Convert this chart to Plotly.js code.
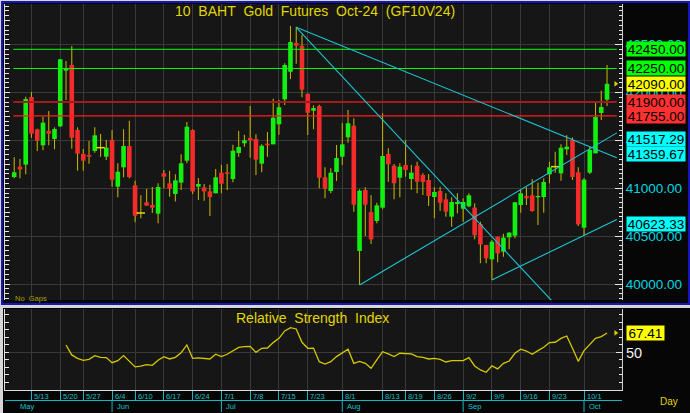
<!DOCTYPE html>
<html><head><meta charset="utf-8">
<script src="https://cdn.plot.ly/plotly-3.0.1.min.js"></script>
<style>html,body{margin:0;padding:0;background:#d6d6d6;overflow:hidden}#chart{width:690px;height:413px}</style>
</head><body><div id="chart"></div>
<script>
// ---------- DATA ----------
const dates = ['5/8','5/9','5/10','5/13','5/14','5/15','5/16','5/17','5/20','5/21','5/23','5/24','5/27','5/28','5/29','5/30','5/31',
'6/4','6/5','6/6','6/7','6/10','6/11','6/12','6/13','6/14','6/17','6/18','6/19','6/20','6/21','6/24','6/25','6/26','6/27','6/28',
'7/1','7/2','7/3','7/4','7/5','7/8','7/9','7/10','7/11','7/12','7/15','7/16','7/17','7/18','7/19','7/23','7/24','7/25','7/26','7/30','7/31',
'8/1','8/2','8/5','8/6','8/7','8/8','8/9','8/13','8/14','8/15','8/16','8/19','8/20','8/21','8/22','8/23','8/26','8/27','8/28','8/29','8/30',
'9/2','9/3','9/4','9/5','9/6','9/9','9/10','9/11','9/12','9/13','9/16','9/17','9/18','9/19','9/20','9/23','9/24','9/25','9/26','9/27','9/30',
'10/1','10/2','10/3','10/4','10/7'];
const openP = [41117,41225,41246,41952,41615,41448,41597,41514,41646,42227,42286,41608,41357,41347,41389,41423,41329,
41503,41016,41218,41441,41030,40741,40853,40825,40734,41155,41051,40940,41058,41287,41608,41016,41009,40967,40947,
41162,41165,41096,41368,41469,41524,41514,41256,41465,41458,41667,41928,42216,42516,42488,41984,41809,41858,41114,40971,41169,
41329,41531,41653,40345,40981,40750,40658,40797,41357,41235,41110,41242,41096,41235,41138,41086,40908,40971,40884,40703,40835,
40786,40811,40797,40626,40407,40257,40494,40338,40487,40504,40825,40919,40926,40905,40908,41145,41225,41155,41406,41503,41166,
40588,41162,41364,41785,41924];
const highP = [41323,41305,41956,42004,41620,41747,41806,41636,42350,42328,42485,41636,41410,41493,41636,41566,41503,
41608,41260,41615,41705,41078,40926,40992,41013,41051,41190,41183,41145,41354,41691,41615,41107,41044,41037,41201,
41245,41253,41454,41597,41559,41858,41563,41458,41587,41935,41921,42304,42694,42686,42600,41990,41865,41870,41218,41208,41451,
41681,41817,41730,40989,41009,40926,40849,41782,41417,41253,41260,41503,41245,41277,41155,41148,41009,41016,40947,40905,40947,
40894,40947,40842,40651,40410,40459,40494,40525,40540,40855,40981,41009,41096,41058,41103,41277,41381,41458,41552,41531,41218,
41107,41434,41903,42018,42286];
const lowP = [41103,41103,41145,41527,41389,41396,41448,41406,41640,41921,41413,41183,41183,41256,41371,41329,41295,
41016,40905,41114,41103,40644,40686,40818,40741,40634,40999,40912,40860,40981,41260,40940,40877,40870,40710,40947,
40947,40981,41061,41329,41434,41319,41138,41166,41329,41458,41559,41869,42140,42300,41949,41556,41615,40999,40894,40947,41075,
41242,41475,40755,39990,40501,40418,40634,40780,41068,40884,40905,41120,40985,40947,40929,40814,40686,40766,40703,40598,40738,
40651,40800,40466,40216,40216,40042,40226,40285,40362,40477,40745,40825,40755,40616,40745,41051,41162,41078,41347,41086,40606,
40512,41148,41364,41712,41858];
const closeP = [41166,41197,41931,41569,41496,41684,41569,41618,42346,42252,41527,41360,41287,41329,41552,41423,41423,
41089,41172,41441,41117,40713,40741,40818,40797,41013,41120,40995,41082,41260,41642,40967,41044,40967,40908,41114,
41047,41148,41392,41430,41500,41500,41298,41444,41448,41736,41845,42286,42526,42488,42028,41788,41837,41110,40995,41162,41315,
41458,41678,40828,40974,40828,40466,40821,41336,41250,41051,41225,41190,41162,41068,41065,40919,40960,40849,40755,40856,40856,
40856,40926,40510,40414,40268,40442,40320,40484,40536,40853,40947,40894,40762,40919,41065,41218,41225,41423,41434,41117,40623,
41089,41399,41743,41848,42090];
const rsiStartDate = '5/21';
const rsiValues = [56.7,47.8,44.8,43.0,43.9,47.2,45.7,45.4,40.9,42.7,47.2,42.4,37.1,37.9,39.1,38.5,43.0,46.3,44.2,45.7,49.8,56.7,
44.8,45.1,44.8,44.2,48.4,46.3,48.4,51.6,54.6,55.2,55.5,50.1,53.7,54.0,58.8,62.6,69.2,72.2,71.0,59.1,53.7,53.9,
41.8,39.7,41.8,46.3,49.3,52.9,40.3,42.1,40.3,35.9,43.3,50.7,48.7,46.3,49.3,49.0,48.7,46.3,45.7,44.2,44.8,43.9,41.5,42.7,42.7,42.7,45.4,
38.0,34.4,32.3,38.0,35.3,40.3,42.4,49.3,52.9,51.3,48.4,51.6,54.6,58.8,59.1,62.6,64.7,53.7,42.1,51.6,57.3,62.6,64.1,67.41];
const weekTickDates = ['5/13','5/20','5/27','6/4','6/10','6/17','6/24','7/1','7/8','7/15','7/23','8/1','8/13','8/19','8/26','9/2','9/9','9/16','9/23','10/1'];
const monthStartDates = ['5/8','6/4','7/1','8/1','9/2','10/1'];
const monthLabels = ['May','Jun','Jul','Aug','Sep','Oct'];
const levelValues = [42450, 42250, 41900, 41755];
const levelColors = ['#00ff00', '#00ff00', '#a31a1a', '#ff1c1c'];
const levelWidths = [1, 1, 2.2, 1.2];
const levelBoxColors = ['#00ff00', '#00ff00', '#ff3030', '#ff3030'];
const trendStartDates = ['7/18', '7/18', '8/6', '9/9'];
const trendStartPrices = [42680, 42680, 39990, 40042];
const trendEndDates = ['10/7', '10/7', '10/7', '10/7'];
const trendEndPrices = [41359.67, 39208, 41517.29, 40623.33];
const trendLabelled = [true, false, true, true];
const lastPriceLabel = 42090;
const lastRsiLabel = 67.41;
const chartTitle = '10&nbsp; BAHT&nbsp; Gold&nbsp; Futures&nbsp; Oct-24&nbsp; (GF10V24)';
const rsiTitle = 'Relative&nbsp; Strength&nbsp; Index';

// ---------- BUILD ----------
const W = 690, H = 413;
const px = v => v / W, py = v => 1 - v / H;
const idx = d => dates.indexOf(d);
const xs = dates.map((d, i) => i);
const X0 = -1.6, X1 = 105.6, LINE_END = 104.7, LINE_START = -0.15;
const FA = '"Liberation Sans",Arial,sans-serif';
const LBL = 13.5;
const GREEN = '#12f012', RED = '#f52a2a', WICK = '#bdae00', CYAN = '#1cc6d2';

const traces = [];
traces.push({type:'bar', x: xs, base: lowP, y: highP.map((h,i)=>h-lowP[i]), width: 0.19,
  marker:{color: WICK, line:{width:0}}, xaxis:'x', yaxis:'y', hoverinfo:'skip'});
traces.push({type:'bar', x: xs, base: openP.map((o,i)=>Math.min(o,closeP[i])),
  y: openP.map((o,i)=>Math.abs(closeP[i]-o)), width: 0.8,
  marker:{color: openP.map((o,i)=> closeP[i] > o ? GREEN : RED), line:{width:0}}, xaxis:'x', yaxis:'y'});
const dojiX = xs.filter(i => openP[i] === closeP[i]);
traces.push({type:'scatter', mode:'markers', x: dojiX, y: dojiX.map(i=>closeP[i]),
  marker:{symbol:'line-ew', size:6, line:{color:'#e8d800', width:1.5}}, xaxis:'x', yaxis:'y'});
levelValues.forEach((v, k) => traces.push({type:'scatter', mode:'lines', x:[LINE_START, LINE_END], y:[v, v],
  line:{color: levelColors[k], width: levelWidths[k]}, xaxis:'x', yaxis:'y'}));
trendStartDates.forEach((d, k) => {
  const a = idx(d), b = idx(trendEndDates[k]);
  const slope = (trendEndPrices[k] - trendStartPrices[k]) / (b - a);
  traces.push({type:'scatter', mode:'lines', x:[a, LINE_END],
    y:[trendStartPrices[k], trendStartPrices[k] + slope * (LINE_END - a)],
    line:{color: CYAN, width: 1.1}, xaxis:'x', yaxis:'y'});
});
traces.push({type:'scatter', mode:'markers', x:[LINE_END - 0.2], y:[lastPriceLabel],
  marker:{symbol:'triangle-right', size:5, color:'#e0d000'}, xaxis:'x', yaxis:'y'});
const r0 = idx(rsiStartDate);
traces.push({type:'scatter', mode:'lines', x: rsiValues.map((v,i)=>r0+i), y: rsiValues,
  line:{color:'#d4c800', width:1.3}, xaxis:'x2', yaxis:'y2'});
traces.push({type:'scatter', mode:'markers', x:[LINE_END - 0.2], y:[lastRsiLabel],
  marker:{symbol:'triangle-right', size:5, color:'#e0d000'}, xaxis:'x2', yaxis:'y2'});

const weekIdx = weekTickDates.map(idx);
const dom = [px(5), px(622)];
const shapes = [
  {type:'rect', xref:'paper', yref:'paper', x0:px(2), x1:px(689), y0:py(304), y1:py(2), fillcolor:'#060606', line:{color:'#1616b8', width:2}, layer:'below'},
  {type:'rect', xref:'paper', yref:'paper', x0:px(3), x1:px(690), y0:py(413), y1:py(308), fillcolor:'#060606', line:{width:0}, layer:'below'},
  {type:'rect', xref:'paper', yref:'paper', x0:dom[0], x1:dom[1], y0:py(300), y1:py(4), fillcolor:'#161616', line:{width:0}, layer:'below'},
  {type:'rect', xref:'paper', yref:'paper', x0:dom[0], x1:dom[1], y0:py(390), y1:py(309), fillcolor:'#161616', line:{width:0}, layer:'below'},
  {type:'line', xref:'paper', yref:'paper', x0:dom[0], x1:dom[1], y0:py(400.5), y1:py(400.5), line:{color:'#12b8c0', width:1}}
];
monthStartDates.slice(1).forEach(d => shapes.push({type:'line', xref:'x2', yref:'paper', x0:idx(d), x1:idx(d), y0:py(400.5), y1:py(412), line:{color:'#12b8c0', width:1}}));

const ann = [];
ann.push({text: chartTitle, xref:'paper', yref:'paper', x:px(314.5), y:py(11.5), xanchor:'center', yanchor:'middle', showarrow:false, font:{family:FA, size:14, color:'#e2d600'}});
ann.push({text: rsiTitle, xref:'paper', yref:'paper', x:px(312.5), y:py(318), xanchor:'center', yanchor:'middle', showarrow:false, font:{family:FA, size:14, color:'#e2d600'}});
ann.push({text:'No&nbsp; Gaps', xref:'paper', yref:'paper', x:px(13), y:py(298), xanchor:'left', yanchor:'middle', showarrow:false, font:{family:FA, size:7.5, color:'#a8a000'}});
ann.push({text:'Day', xref:'paper', yref:'paper', x:px(669), y:py(401), xanchor:'center', yanchor:'middle', showarrow:false, font:{family:FA, size:10, color:'#e2d600'}});
const box = (v, yref, color) => ({text: v.toFixed(2), xref:'paper', yref: yref, x:px(626), y:v, xanchor:'left', yanchor:'middle',
  showarrow:false, bgcolor: color, width:58, height:14, borderpad:0, align:'center', font:{family:FA, size:LBL, color:'#000'}});
trendStartDates.forEach((d,k) => { if (trendLabelled[k]) ann.push(box(trendEndPrices[k], 'y', '#00ffff')); });
levelValues.forEach((v,k) => ann.push(box(v, 'y', levelBoxColors[k])));
ann.push(box(lastPriceLabel, 'y', '#ffff00'));
const rb = box(lastRsiLabel, 'y2', '#ffff00'); rb.width = 37; ann.push(rb);
weekTickDates.forEach((d,k) => ann.push({text:d, xref:'x2', yref:'paper', x:idx(d), y:py(396.5), xanchor:'left', yanchor:'middle', xshift:0.5,
  showarrow:false, font:{family:FA, size:7.5, color:'#14c0c8'}}));
monthStartDates.forEach((d,k) => ann.push({text:monthLabels[k], xref:'x2', yref:'paper', x:idx(d), y:py(406), xanchor:'left', yanchor:'middle', xshift: k===0 ? 4 : 3,
  showarrow:false, font:{family:FA, size:7.5, color:'#14c0c8'}}));

const layout = {
  width: W, height: H, margin:{l:0, r:0, t:0, b:0}, paper_bgcolor:'#d6d6d6', plot_bgcolor:'rgba(0,0,0,0)',
  showlegend:false, barmode:'overlay', hovermode:false,
  xaxis:{domain:dom, range:[X0, X1], anchor:'y', tickvals: weekIdx, showticklabels:false, ticks:'',
    showgrid:true, gridcolor:'#393939', gridwidth:1, zeroline:false, showline:false},
  yaxis:{domain:[py(300), py(4)], range:[39833, 42923], side:'right', anchor:'x', tick0:40000, dtick:500, tickformat:'.2f',
    tickfont:{family:FA, size:LBL, color:'#00d6e0'}, ticks:'inside', ticklen:7, tickcolor:'#e6e6e6', tickwidth:1,
    showline:true, linecolor:'#cfcfcf', linewidth:1, showgrid:true, gridcolor:'#393939', zeroline:false,
    minor:{dtick:50, ticks:'inside', ticklen:3.5, tickcolor:'#e6e6e6', showgrid:false}},
  yaxis3:{overlaying:'y', anchor:'x', side:'left', range:[39833, 42923], tick0:40000, dtick:250, showticklabels:false,
    ticks:'inside', ticklen:5, tickcolor:'#e6e6e6', showline:true, linecolor:'#e0e0e0', showgrid:false, zeroline:false,
    minor:{dtick:50, ticks:'inside', ticklen:3.5, tickcolor:'#e6e6e6', showgrid:false}},
  xaxis2:{domain:dom, range:[X0, X1], anchor:'y2', tickvals: weekIdx, showticklabels:false, ticks:'outside', ticklen:10,
    tickcolor:'#12b8c0', tickwidth:1, showgrid:true, gridcolor:'#393939', zeroline:false, showline:true, linecolor:'#dcdcdc'},
  yaxis2:{domain:[py(390), py(309)], range:[16.5, 88.8], side:'right', anchor:'x2', tickvals:[50], ticktext:['50'],
    tickfont:{family:FA, size:LBL + 1, color:'#f0f0f0'}, ticks:'inside', ticklen:6, tickcolor:'#e6e6e6',
    showline:true, linecolor:'#cfcfcf', showgrid:true, gridcolor:'#393939', zeroline:false,
    minor:{tick0:50, dtick:6.7, ticks:'inside', ticklen:3.5, tickcolor:'#e6e6e6', showgrid:false}},
  yaxis4:{overlaying:'y2', anchor:'x2', side:'left', range:[16.5, 88.8], showticklabels:false, tick0:50, dtick:6.7,
    ticks:'inside', ticklen:3.5, tickcolor:'#e6e6e6', showline:true, linecolor:'#e0e0e0', showgrid:false, zeroline:false},
  shapes: shapes, annotations: ann
};
traces.push({type:'scatter', x:[], y:[], xaxis:'x', yaxis:'y3'});
traces.push({type:'scatter', x:[], y:[], xaxis:'x2', yaxis:'y4'});
Plotly.newPlot('chart', traces, layout, {staticPlot:true, displayModeBar:false});
</script></body></html>
